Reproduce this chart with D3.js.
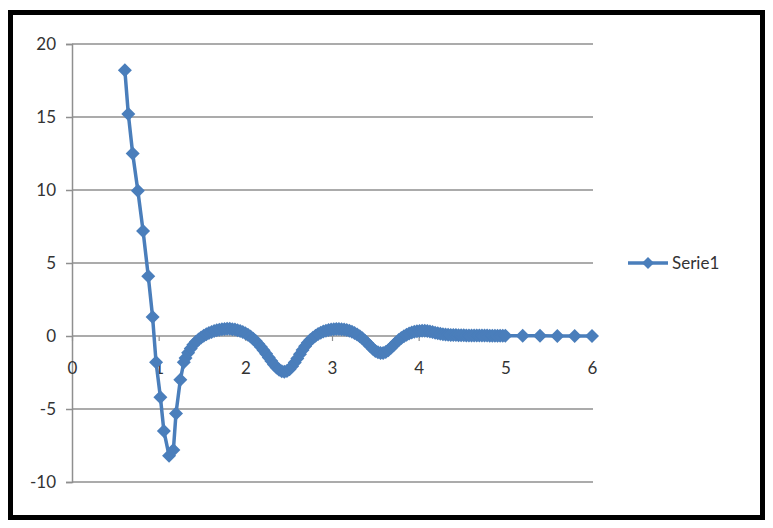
<!DOCTYPE html>
<html>
<head>
<meta charset="utf-8">
<script src="https://cdn.jsdelivr.net/npm/d3@7"></script>
<style>
  html, body { margin: 0; padding: 0; background: #fff; }
  svg { display: block; }
  text { font-family: Lato, "Open Sans", sans-serif; }
</style>
</head>
<body>
<svg id="chart" width="773" height="528"></svg>
<script>
// ---- data ----
const seriesName = "Serie1";
const xTicks = [0, 1, 2, 3, 4, 5, 6];
const yTicks = [-10, -5, 0, 5, 10, 15, 20];

const xValues = [
  0.61,0.65,0.70,0.76,0.82,0.88,0.93,0.97,1.02,1.06,1.12,1.17,1.20,1.25,1.29,
  1.31,1.34,1.37,1.40,1.43,1.46,1.49,1.52,1.55,1.58,
  1.61,1.64,1.67,1.70,1.73,1.76,1.79,1.82,1.85,1.88,
  1.91,1.94,1.97,2.00,2.03,2.06,2.09,2.12,2.15,2.18,
  2.21,2.24,2.27,2.30,2.33,2.36,2.39,2.42,2.45,2.48,
  2.51,2.54,2.57,2.60,2.63,2.66,2.69,2.72,2.75,2.78,
  2.81,2.84,2.87,2.90,2.93,2.96,2.99,3.02,3.05,3.08,
  3.11,3.14,3.17,3.20,3.23,3.26,3.29,3.32,3.35,3.38,
  3.41,3.44,3.47,3.50,3.53,3.56,3.59,3.62,3.65,3.68,
  3.71,3.74,3.77,3.80,3.83,3.86,3.89,3.92,3.95,3.98,
  4.01,4.04,4.07,4.10,4.13,4.16,4.19,4.22,4.25,4.28,
  4.31,4.34,4.37,4.40,4.43,4.46,4.49,4.52,4.55,4.58,
  4.61,4.64,4.67,4.70,4.73,4.76,4.79,4.82,4.85,4.88,
  4.91,4.94,4.97,5.00,
  5.2,5.4,5.6,5.8,6.0
];
const yValues = [
  18.2,15.2,12.5,9.95,7.2,4.1,1.3,-1.8,-4.2,-6.5,-8.2,-7.8,-5.3,-3.0,-1.8,
  -1.50,-1.15,-0.85,-0.60,-0.40,-0.24,-0.10,0.02,0.12,0.21,
  0.28,0.34,0.39,0.43,0.46,0.48,0.49,0.49,0.47,0.44,
  0.40,0.34,0.27,0.18,0.08,-0.04,-0.18,-0.35,-0.54,-0.75,
  -0.98,-1.22,-1.47,-1.72,-1.96,-2.16,-2.32,-2.42,-2.45,-2.40,
  -2.27,-2.07,-1.82,-1.54,-1.25,-0.96,-0.70,-0.47,-0.28,-0.12,
  0.02,0.13,0.22,0.30,0.36,0.41,0.45,0.47,0.48,0.48,
  0.47,0.45,0.41,0.36,0.29,0.20,0.10,-0.02,-0.16,-0.32,
  -0.50,-0.69,-0.87,-1.02,-1.12,-1.17,-1.16,-1.09,-0.97,-0.81,
  -0.63,-0.45,-0.28,-0.13,-0.01,0.09,0.17,0.24,0.29,0.33,
  0.35,0.36,0.36,0.34,0.31,0.27,0.23,0.19,0.15,0.12,
  0.10,0.08,0.07,0.06,0.06,0.05,0.05,0.05,0.04,0.04,
  0.04,0.04,0.03,0.03,0.03,0.03,0.03,0.02,0.02,0.02,
  0.02,0.02,0.02,0.02,
  0.01,0.01,0.0,0.0,0.0
];

// ---- layout ----
const svg = d3.select("#chart");
const W = 773, H = 528;
const plot = { left: 72, right: 592, top: 44, bottom: 482 };
const color = "#4A7EBB";
const gridColor = "#8f8f8f";
const textColor = "#333";
const fmt = d => String(d);

const x = d3.scaleLinear().domain([0, 6]).range([plot.left, plot.right]);
const y = d3.scaleLinear().domain([-10, 20]).range([plot.bottom, plot.top]);

svg.append("rect").attr("width", W).attr("height", H).attr("fill", "#fff");

// outer frame
svg.append("rect")
  .attr("x", 10.5).attr("y", 12.5).attr("width", 752).attr("height", 505)
  .attr("fill", "none").attr("stroke", "#000").attr("stroke-width", 5);

// y axis with gridlines
const yAxis = d3.axisLeft(y).tickValues(yTicks).tickSize(6).tickPadding(10).tickFormat(fmt);
const gY = svg.append("g").attr("transform", `translate(${plot.left},0)`).call(yAxis);
gY.select(".domain").attr("stroke", gridColor).attr("stroke-width", 1.5);
gY.selectAll(".tick line").attr("stroke", gridColor).attr("stroke-width", 1.5);
gY.selectAll(".tick text").attr("fill", textColor).attr("font-size", 17)
  .attr("font-family", "Lato, 'Open Sans', sans-serif");

// horizontal gridlines
svg.append("g").selectAll("line").data(yTicks).join("line")
  .attr("x1", plot.left).attr("x2", x(6) + 1)
  .attr("y1", d => y(d)).attr("y2", d => y(d))
  .attr("stroke", gridColor).attr("stroke-width", 1.5);

// x axis at y = 0
const xAxis = d3.axisBottom(x).tickValues(xTicks).tickSize(5).tickPadding(21).tickFormat(fmt);
const gX = svg.append("g").attr("transform", `translate(0,${y(0)})`).call(xAxis);
gX.select(".domain").remove();
gX.selectAll(".tick line").attr("stroke", gridColor).attr("stroke-width", 1.2);
gX.selectAll(".tick text").attr("fill", textColor).attr("font-size", 17)
  .attr("font-family", "Lato, 'Open Sans', sans-serif");

// series
const pts = d3.zip(xValues, yValues);
const line = d3.line().x(d => x(d[0])).y(d => y(d[1]));
svg.append("path").datum(pts)
  .attr("d", line).attr("fill", "none")
  .attr("stroke", color).attr("stroke-width", 3.5).attr("stroke-linejoin", "round");

const diamond = r => `M0,${-r}L${r},0L0,${r}L${-r},0Z`;
svg.append("g").selectAll("path").data(pts).join("path")
  .attr("transform", d => `translate(${x(d[0])},${y(d[1])})`)
  .attr("d", diamond(7)).attr("fill", color);

// legend
const lg = svg.append("g").attr("transform", "translate(628,263)");
lg.append("line").attr("x1", 0).attr("x2", 40).attr("y1", 0).attr("y2", 0)
  .attr("stroke", color).attr("stroke-width", 3.5);
lg.append("path").attr("transform", "translate(20,0)").attr("d", diamond(6)).attr("fill", color);
lg.append("text").attr("x", 44).attr("y", 0).attr("dy", "0.35em")
  .attr("font-size", 17).attr("fill", textColor).text(seriesName);
</script>
</body>
</html>
